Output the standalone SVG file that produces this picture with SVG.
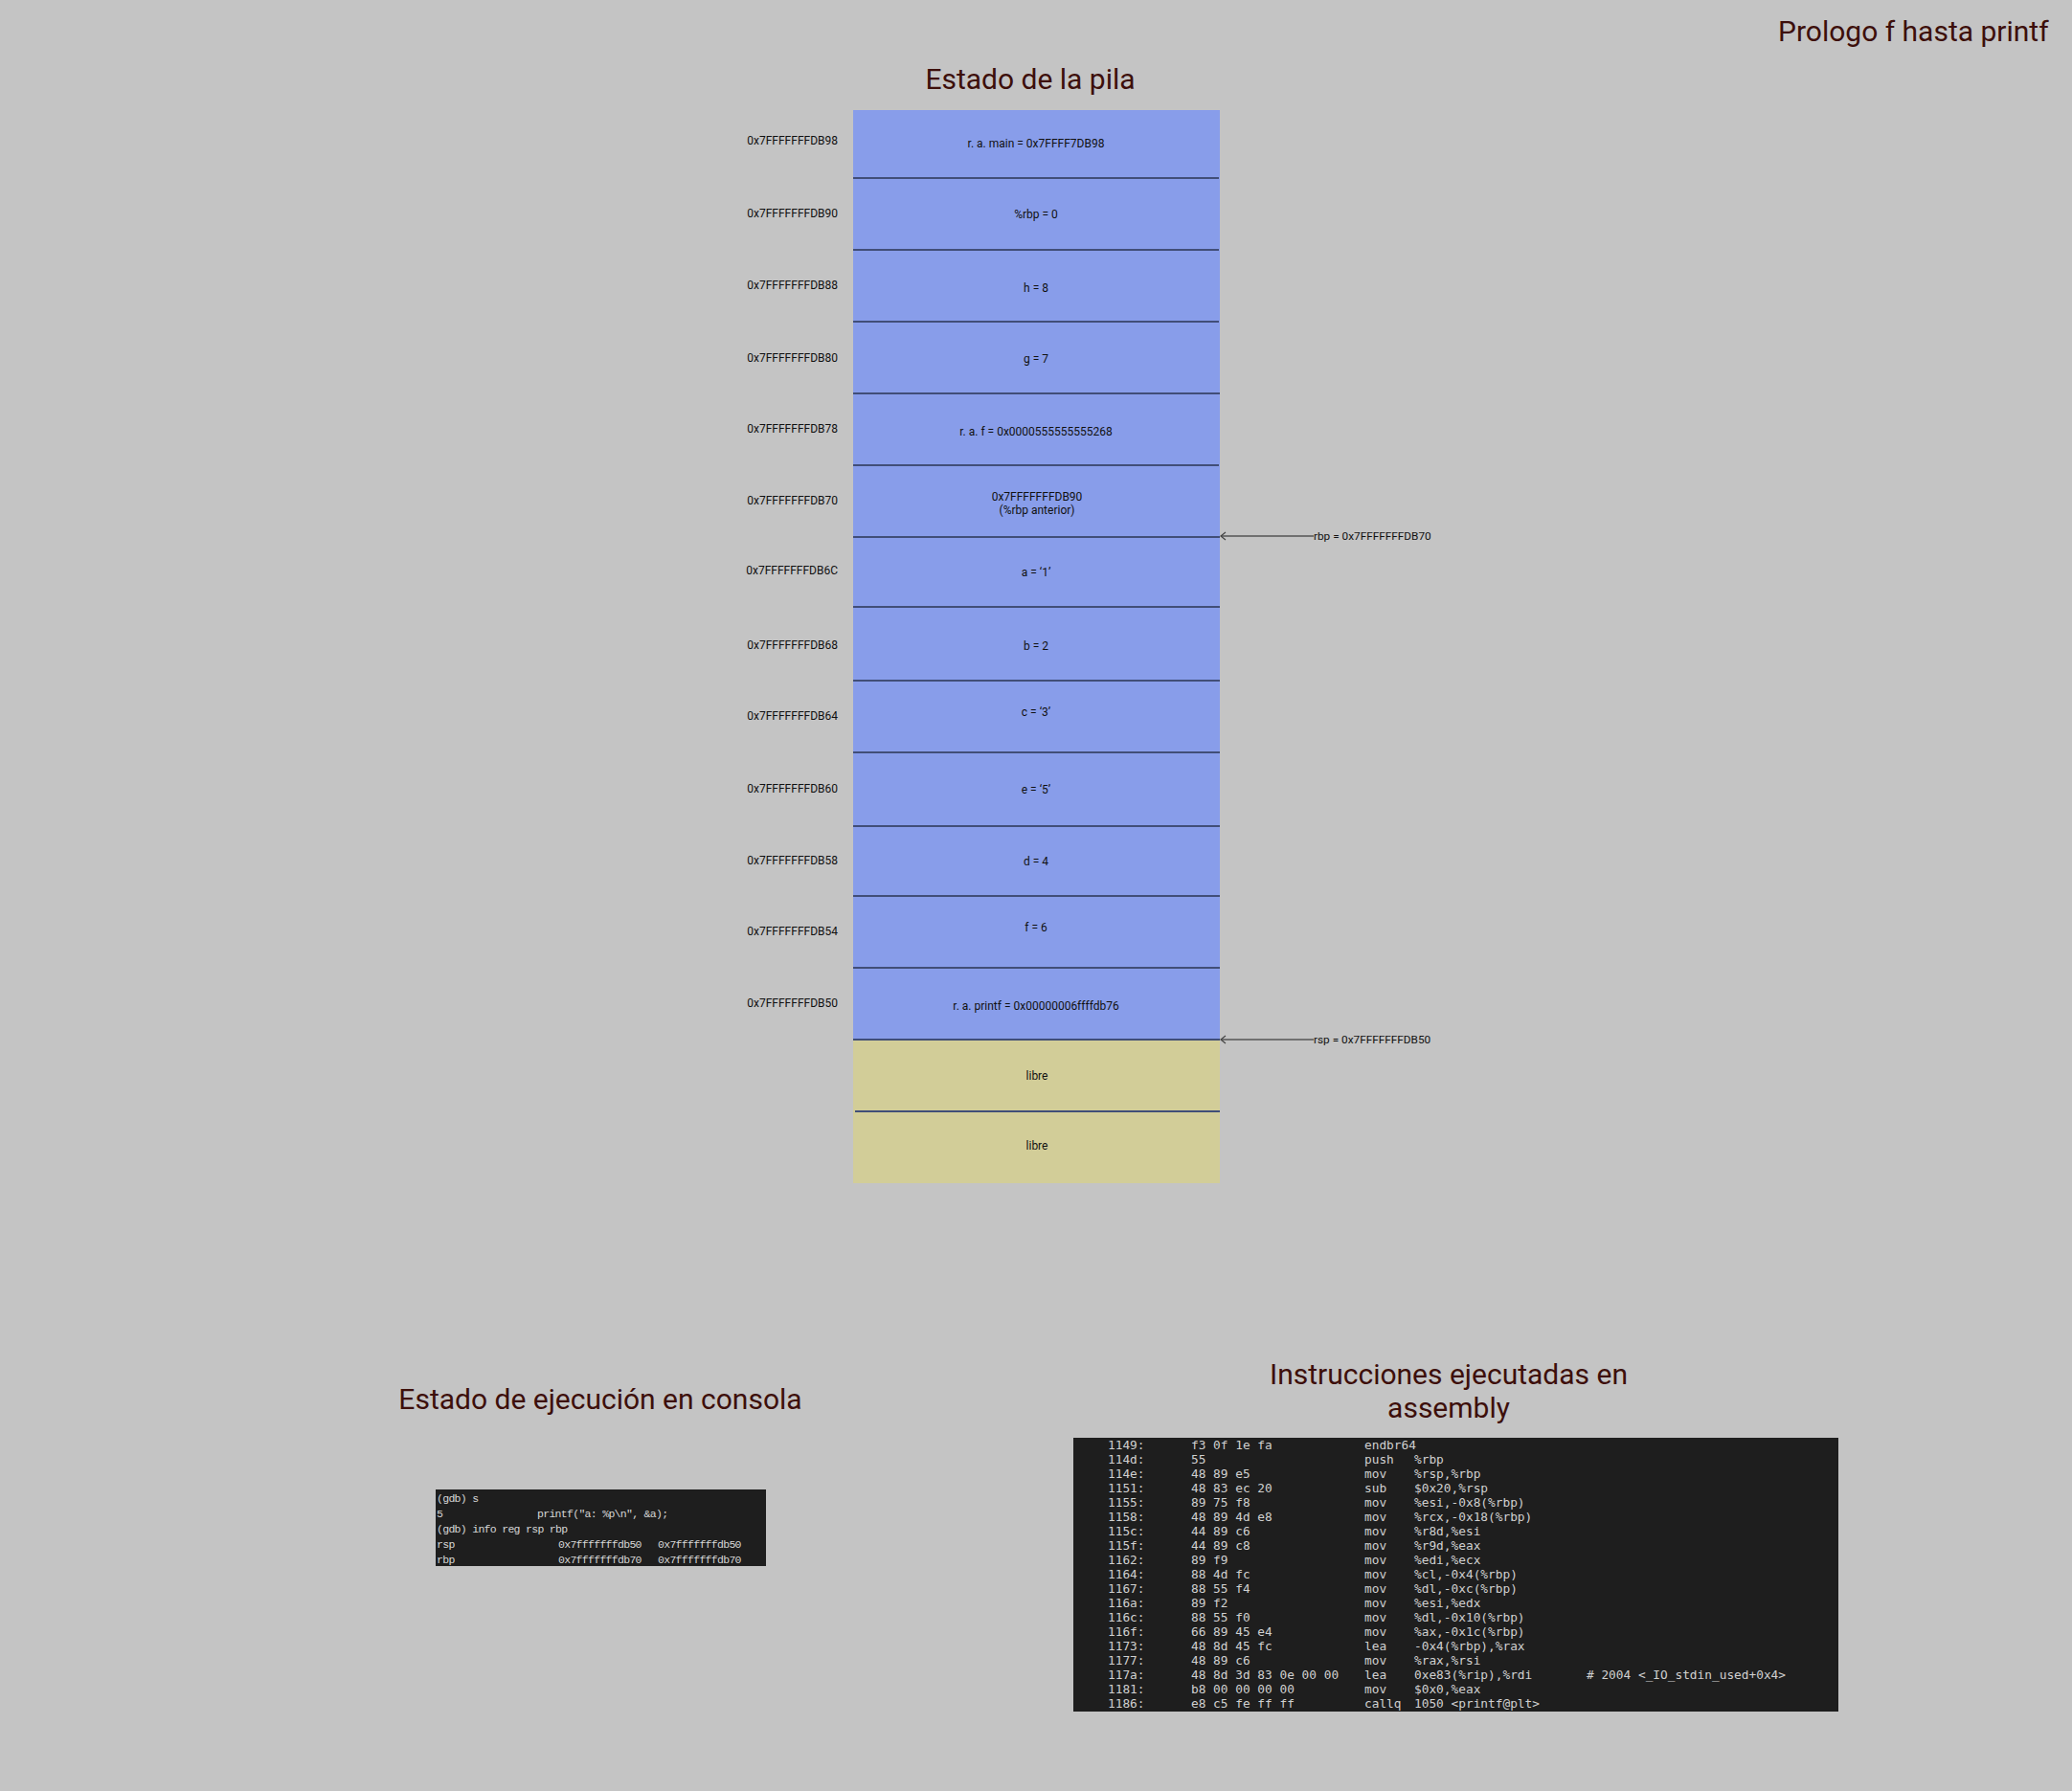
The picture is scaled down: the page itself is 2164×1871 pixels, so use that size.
<svg xmlns="http://www.w3.org/2000/svg" width="2164" height="1871" viewBox="0 0 2164 1871">
<defs>
<style>
.title{font-family:Roboto,"Liberation Sans",sans-serif;font-size:30px;fill:#3d0f0b}
.addr{font-family:Roboto,"Liberation Sans",sans-serif;font-size:12px;fill:#111;text-anchor:end;dominant-baseline:central}
.cell{font-family:Roboto,"Liberation Sans",sans-serif;font-size:12px;fill:#111;text-anchor:middle;dominant-baseline:central}
.used{fill:#889dea}
.free{fill:#d2cd98}
.div{stroke:#414e78;stroke-width:2}
.ptr{font-family:Roboto,"Liberation Sans",sans-serif;font-size:11.8px;fill:#111;dominant-baseline:central}
.conn{stroke:#555;stroke-width:1.5;fill:none}
.asm{font-family:"DejaVu Sans Mono","Liberation Mono",monospace;font-size:12.8px;fill:#d0d0d0;dominant-baseline:central;white-space:pre}
.con{font-family:"Liberation Mono","DejaVu Sans Mono",monospace;font-size:11.5px;letter-spacing:-0.7px;fill:#d6d6d6;dominant-baseline:central;white-space:pre}
</style>
<marker id="chev" markerUnits="userSpaceOnUse" markerWidth="10" markerHeight="10" viewBox="-7 -5 8 10" refX="0" refY="0" orient="auto">
<path d="M-5,-4 L0,0 L-5,4" fill="none" stroke="#444" stroke-width="1.2"/>
</marker>
</defs>
<rect width="2164" height="1871" fill="#c4c4c4"/>

<g id="titles">
<text id="t-prologo" class="title" x="1857" y="43">Prologo f hasta printf</text>
<text id="t-pila" class="title" x="1076" y="93" text-anchor="middle">Estado de la pila</text>
<text id="t-consola" class="title" x="627" y="1472" text-anchor="middle">Estado de ejecución en consola</text>
<text id="t-asm" class="title" text-anchor="middle"><tspan x="1513" y="1446">Instrucciones ejecutadas en</tspan><tspan x="1513" y="1481">assembly</tspan></text>
</g>

<g id="stack">
<g id="cell-db98"><rect class="used" x="891" y="115" width="383" height="71"/><text class="addr" x="875" y="147">0x7FFFFFFFDB98</text><text class="cell" x="1082" y="150">r. a. main = 0x7FFFF7DB98</text></g>
<g id="cell-db90"><rect class="used" x="891" y="186" width="383" height="75"/><text class="addr" x="875" y="223">0x7FFFFFFFDB90</text><text class="cell" x="1082" y="224">%rbp = 0</text></g>
<g id="cell-db88"><rect class="used" x="891" y="261" width="383" height="75"/><text class="addr" x="875" y="298">0x7FFFFFFFDB88</text><text class="cell" x="1082" y="301">h = 8</text></g>
<g id="cell-db80"><rect class="used" x="891" y="336" width="383" height="75"/><text class="addr" x="875" y="374">0x7FFFFFFFDB80</text><text class="cell" x="1082" y="375">g = 7</text></g>
<g id="cell-db78"><rect class="used" x="891" y="411" width="383" height="75"/><text class="addr" x="875" y="448">0x7FFFFFFFDB78</text><text class="cell" x="1082" y="451">r. a. f = 0x0000555555555268</text></g>
<g id="cell-db70"><rect class="used" x="891" y="486" width="383" height="75"/><text class="addr" x="875" y="523">0x7FFFFFFFDB70</text><text class="cell" x="1083" y="519">0x7FFFFFFFDB90</text><text class="cell" x="1083" y="533">(%rbp anterior)</text></g>
<g id="cell-db6c"><rect class="used" x="891" y="561" width="383" height="73"/><text class="addr" x="875" y="596">0x7FFFFFFFDB6C</text><text class="cell" x="1082" y="598">a = ‘1’</text></g>
<g id="cell-db68"><rect class="used" x="891" y="634" width="383" height="77"/><text class="addr" x="875" y="674">0x7FFFFFFFDB68</text><text class="cell" x="1082" y="675">b = 2</text></g>
<g id="cell-db64"><rect class="used" x="891" y="711" width="383" height="75"/><text class="addr" x="875" y="748">0x7FFFFFFFDB64</text><text class="cell" x="1082" y="744">c = ‘3’</text></g>
<g id="cell-db60"><rect class="used" x="891" y="786" width="383" height="77"/><text class="addr" x="875" y="824">0x7FFFFFFFDB60</text><text class="cell" x="1082" y="825">e = ‘5’</text></g>
<g id="cell-db58"><rect class="used" x="891" y="863" width="383" height="73"/><text class="addr" x="875" y="899">0x7FFFFFFFDB58</text><text class="cell" x="1082" y="900">d = 4</text></g>
<g id="cell-db54"><rect class="used" x="891" y="936" width="383" height="75"/><text class="addr" x="875" y="973">0x7FFFFFFFDB54</text><text class="cell" x="1082" y="969">f = 6</text></g>
<g id="cell-db50"><rect class="used" x="891" y="1011" width="383" height="75"/><text class="addr" x="875" y="1048">0x7FFFFFFFDB50</text><text class="cell" x="1082" y="1051">r. a. printf = 0x00000006ffffdb76</text></g>
<g id="cell-libre1"><rect class="free" x="891" y="1086" width="383" height="75"/><text class="cell" x="1083" y="1124">libre</text></g>
<g id="cell-libre2"><rect class="free" x="891" y="1161" width="383" height="75"/><text class="cell" x="1083" y="1197">libre</text></g>
<g id="dividers">
<line class="div" x1="891" y1="186" x2="1273" y2="186"/>
<line class="div" x1="891" y1="261" x2="1273" y2="261" stroke-width="1.2"/>
<line class="div" x1="891" y1="336" x2="1273" y2="336"/>
<line class="div" x1="891" y1="411" x2="1274" y2="411"/>
<line class="div" x1="891" y1="486" x2="1273" y2="486"/>
<line class="div" x1="891" y1="561" x2="1274" y2="561"/>
<line class="div" x1="891" y1="634" x2="1274" y2="634"/>
<line class="div" x1="891" y1="711" x2="1274" y2="711"/>
<line class="div" x1="891" y1="786" x2="1274" y2="786" stroke="#15151f"/>
<line class="div" x1="891" y1="863" x2="1274" y2="863"/>
<line class="div" x1="891" y1="936" x2="1274" y2="936"/>
<line class="div" x1="891" y1="1011" x2="1274" y2="1011"/>
<line class="div" x1="891" y1="1086" x2="1274" y2="1086" stroke="#4a5070"/>
<line class="div" x1="893" y1="1161" x2="1274" y2="1161" stroke="#6b6a4c"/>
</g>
</g>

<g id="connectors">
<line class="conn" x1="1372" y1="560" x2="1275" y2="560" marker-end="url(#chev)"/>
<line class="conn" x1="1372" y1="1086" x2="1275" y2="1086" marker-end="url(#chev)"/>
</g>
<g id="pointer-labels">
<text id="lbl-rbp" class="ptr" x="1372" y="560">rbp = 0x7FFFFFFFDB70</text>
<text id="lbl-rsp" class="ptr" x="1372" y="1086">rsp = 0x7FFFFFFFDB50</text>
</g>

<g id="console">
<rect x="455" y="1556" width="345" height="80" fill="#1e1e1e"/>
<text class="con" x="456" y="1565">(gdb) s</text>
<text class="con" x="456" y="1581">5</text><text class="con" x="561" y="1581">printf("a: %p\n", &amp;a);</text>
<text class="con" x="456" y="1597">(gdb) info reg rsp rbp</text>
<text class="con" x="456" y="1613">rsp</text><text class="con" x="583" y="1613">0x7fffffffdb50</text><text class="con" x="687" y="1613">0x7fffffffdb50</text>
<text class="con" x="456" y="1629">rbp</text><text class="con" x="583" y="1629">0x7fffffffdb70</text><text class="con" x="687" y="1629">0x7fffffffdb70</text>
</g>

<g id="assembly">
<rect x="1121" y="1502" width="799" height="286" fill="#1e1e1e"/>
<g class="asm">
<text x="1157" y="1509">1149:</text><text x="1244" y="1509">f3 0f 1e fa</text><text x="1425" y="1509">endbr64</text>
<text x="1157" y="1524">114d:</text><text x="1244" y="1524">55</text><text x="1425" y="1524">push</text><text x="1477" y="1524">%rbp</text>
<text x="1157" y="1539">114e:</text><text x="1244" y="1539">48 89 e5</text><text x="1425" y="1539">mov</text><text x="1477" y="1539">%rsp,%rbp</text>
<text x="1157" y="1554">1151:</text><text x="1244" y="1554">48 83 ec 20</text><text x="1425" y="1554">sub</text><text x="1477" y="1554">$0x20,%rsp</text>
<text x="1157" y="1569">1155:</text><text x="1244" y="1569">89 75 f8</text><text x="1425" y="1569">mov</text><text x="1477" y="1569">%esi,-0x8(%rbp)</text>
<text x="1157" y="1584">1158:</text><text x="1244" y="1584">48 89 4d e8</text><text x="1425" y="1584">mov</text><text x="1477" y="1584">%rcx,-0x18(%rbp)</text>
<text x="1157" y="1599">115c:</text><text x="1244" y="1599">44 89 c6</text><text x="1425" y="1599">mov</text><text x="1477" y="1599">%r8d,%esi</text>
<text x="1157" y="1614">115f:</text><text x="1244" y="1614">44 89 c8</text><text x="1425" y="1614">mov</text><text x="1477" y="1614">%r9d,%eax</text>
<text x="1157" y="1629">1162:</text><text x="1244" y="1629">89 f9</text><text x="1425" y="1629">mov</text><text x="1477" y="1629">%edi,%ecx</text>
<text x="1157" y="1644">1164:</text><text x="1244" y="1644">88 4d fc</text><text x="1425" y="1644">mov</text><text x="1477" y="1644">%cl,-0x4(%rbp)</text>
<text x="1157" y="1659">1167:</text><text x="1244" y="1659">88 55 f4</text><text x="1425" y="1659">mov</text><text x="1477" y="1659">%dl,-0xc(%rbp)</text>
<text x="1157" y="1674">116a:</text><text x="1244" y="1674">89 f2</text><text x="1425" y="1674">mov</text><text x="1477" y="1674">%esi,%edx</text>
<text x="1157" y="1689">116c:</text><text x="1244" y="1689">88 55 f0</text><text x="1425" y="1689">mov</text><text x="1477" y="1689">%dl,-0x10(%rbp)</text>
<text x="1157" y="1704">116f:</text><text x="1244" y="1704">66 89 45 e4</text><text x="1425" y="1704">mov</text><text x="1477" y="1704">%ax,-0x1c(%rbp)</text>
<text x="1157" y="1719">1173:</text><text x="1244" y="1719">48 8d 45 fc</text><text x="1425" y="1719">lea</text><text x="1477" y="1719">-0x4(%rbp),%rax</text>
<text x="1157" y="1734">1177:</text><text x="1244" y="1734">48 89 c6</text><text x="1425" y="1734">mov</text><text x="1477" y="1734">%rax,%rsi</text>
<text x="1157" y="1749">117a:</text><text x="1244" y="1749">48 8d 3d 83 0e 00 00</text><text x="1425" y="1749">lea</text><text x="1477" y="1749">0xe83(%rip),%rdi</text><text x="1657" y="1749"># 2004 &lt;_IO_stdin_used+0x4&gt;</text>
<text x="1157" y="1764">1181:</text><text x="1244" y="1764">b8 00 00 00 00</text><text x="1425" y="1764">mov</text><text x="1477" y="1764">$0x0,%eax</text>
<text x="1157" y="1779">1186:</text><text x="1244" y="1779">e8 c5 fe ff ff</text><text x="1425" y="1779">callq</text><text x="1477" y="1779">1050 &lt;printf@plt&gt;</text>
</g>
</g>
</svg>
